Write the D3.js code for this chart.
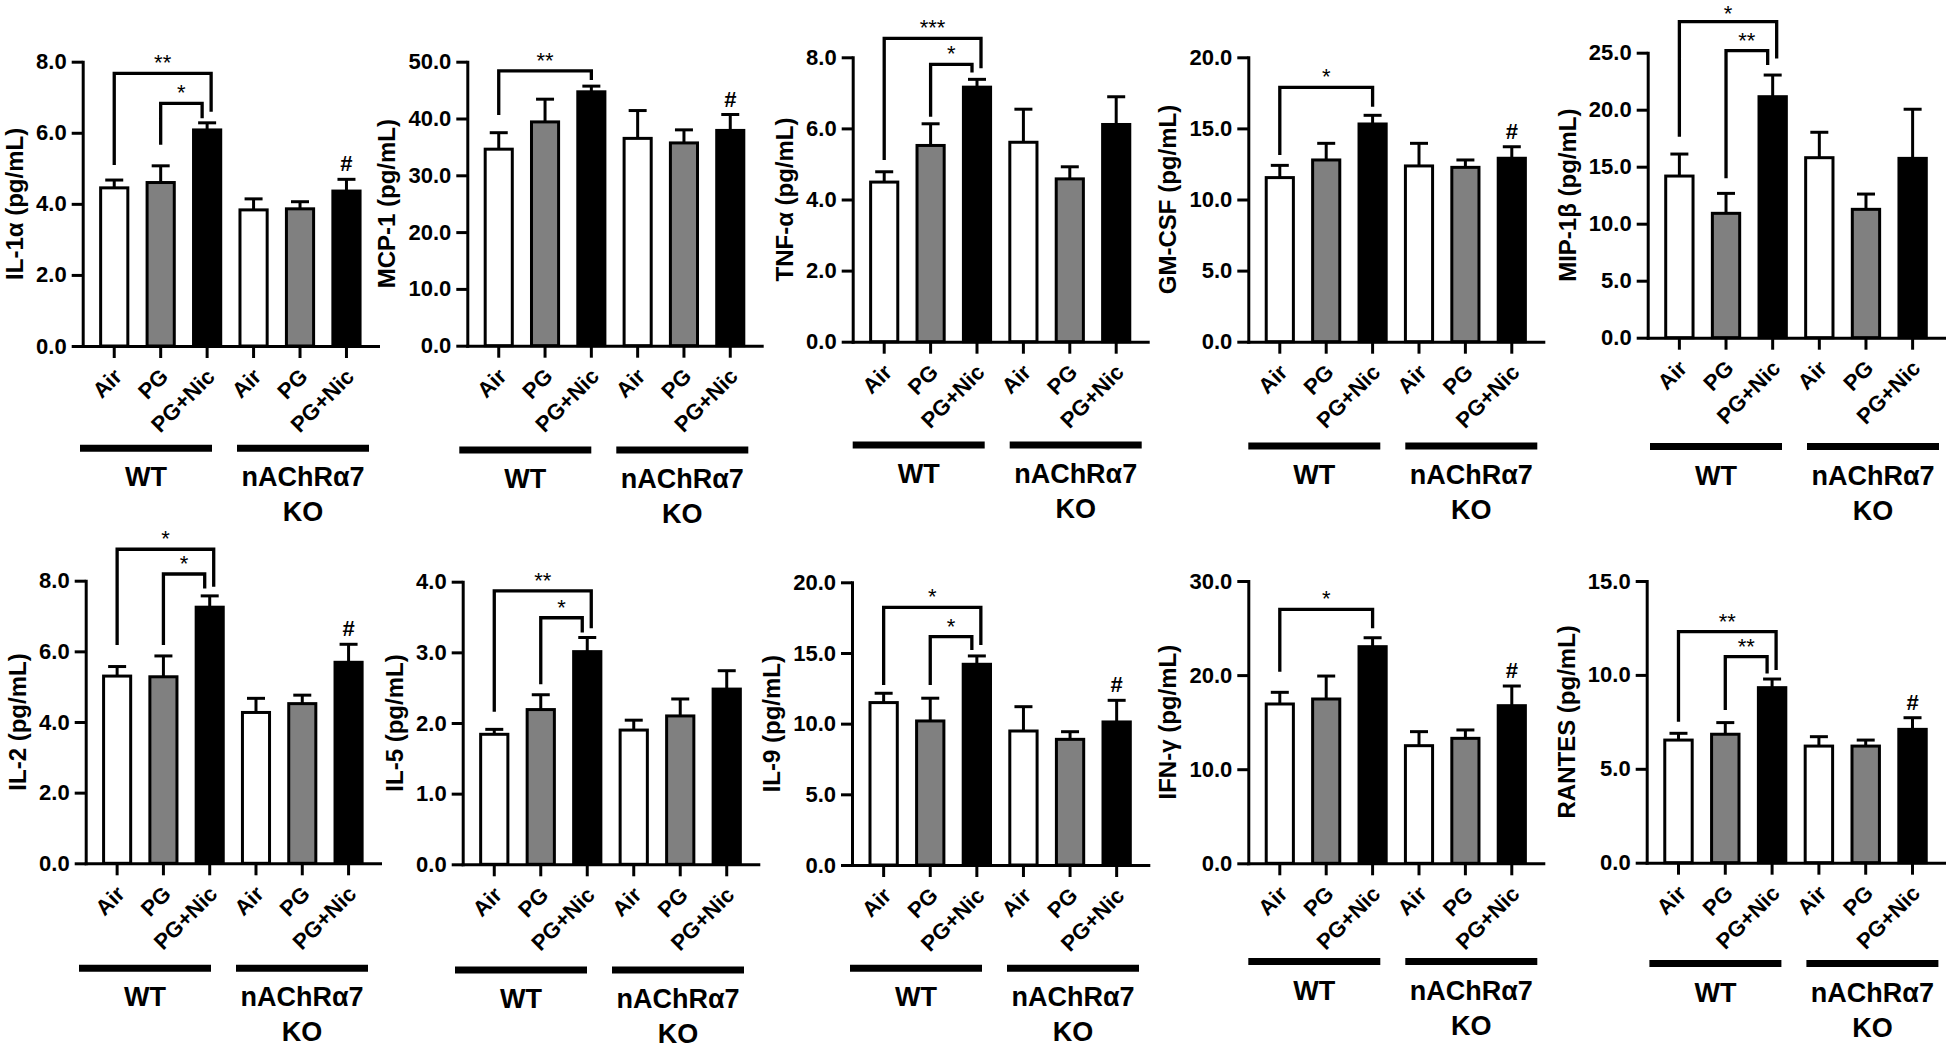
<!DOCTYPE html>
<html><head><meta charset="utf-8">
<script src="https://cdn.jsdelivr.net/npm/d3@7"></script>
<style>
html,body{margin:0;padding:0;background:#fff;}
svg{display:block;}
</style></head><body>
<svg id="chart" width="1946" height="1063"></svg>
<script>
// ---------- DATA ----------
const categories = ["Air", "PG", "PG+Nic", "Air", "PG", "PG+Nic"];
const groupLabels = [["WT"], ["nAChRα7", "KO"]];
const cytokines = ["IL-1α", "MCP-1", "TNF-α", "GM-CSF", "MIP-1β", "IL-2", "IL-5", "IL-9", "IFN-γ", "RANTES"];
const unit = "(pg/mL)";
const yMax = [8, 50, 8, 20, 25, 8, 4, 20, 30, 15];
const tickStep = [2, 10, 2, 5, 5, 2, 1, 5, 10, 5];

const means = [
  [4.45, 4.60, 6.08, 3.83, 3.86, 4.36],
  [34.6, 39.4, 44.7, 36.5, 35.7, 37.9],
  [4.49, 5.52, 7.16, 5.61, 4.58, 6.11],
  [11.54, 12.78, 15.31, 12.36, 12.26, 12.90],
  [14.18, 10.91, 21.14, 15.79, 11.26, 15.73],
  [5.30, 5.28, 7.25, 4.27, 4.52, 5.69],
  [1.84, 2.19, 3.01, 1.90, 2.10, 2.48],
  [11.49, 10.19, 14.20, 9.48, 8.89, 10.12],
  [16.93, 17.46, 23.02, 12.50, 13.28, 16.75],
  [6.53, 6.84, 9.32, 6.21, 6.21, 7.10]
];
const sems = [
  [0.22, 0.47, 0.20, 0.31, 0.20, 0.33],
  [2.9, 4.0, 1.0, 4.9, 2.3, 2.8],
  [0.29, 0.61, 0.22, 0.93, 0.34, 0.78],
  [0.86, 1.17, 0.61, 1.59, 0.52, 0.81],
  [1.93, 1.75, 1.90, 2.23, 1.34, 4.31],
  [0.27, 0.59, 0.32, 0.40, 0.24, 0.51],
  [0.07, 0.21, 0.20, 0.14, 0.24, 0.26],
  [0.66, 1.61, 0.59, 1.72, 0.54, 1.53],
  [1.24, 2.44, 0.95, 1.49, 0.89, 2.09],
  [0.36, 0.62, 0.46, 0.50, 0.32, 0.62]
];
// significance brackets: [panel, fromBar, toBar, level, leftLegEnd, rightLegEnd, label]
const brackets = [
  [0, 0, 2, 7.67, 5.09, 6.59, "**"], [0, 1, 2, 6.83, 5.66, 6.41, "*"],
  [1, 0, 2, 48.4, 40.6, 46.8, "**"],
  [2, 0, 2, 8.53, 5.11, 7.69, "***"], [2, 1, 2, 7.80, 6.33, 7.57, "*"],
  [3, 0, 2, 17.89, 13.13, 16.53, "*"],
  [4, 0, 2, 27.72, 17.63, 24.5, "*"], [4, 1, 2, 25.18, 13.98, 23.92, "**"],
  [5, 0, 2, 8.89, 6.18, 7.83, "*"], [5, 1, 2, 8.19, 6.18, 7.78, "*"],
  [6, 0, 2, 3.87, 2.16, 3.34, "**"], [6, 1, 2, 3.49, 2.55, 3.28, "*"],
  [7, 0, 2, 18.23, 12.74, 15.57, "*"], [7, 1, 2, 16.16, 12.74, 15.21, "*"],
  [8, 0, 2, 26.99, 20.36, 24.97, "*"],
  [9, 0, 2, 12.3, 7.51, 10.26, "**"], [9, 1, 2, 10.97, 8.13, 10.08, "**"]
];
// "#" marks: [panel, bar]
const hashMarks = [[0, 5], [1, 5], [3, 5], [5, 5], [7, 5], [8, 5], [9, 5]];

// ---------- LAYOUT ----------
const panelLeft   = [82.7, 467.3, 852.7, 1248.3, 1647.7, 85.7, 462.7, 852, 1248.3, 1646.7];
const panelRight  = [378, 761.7, 1147.7, 1543.3, 1944.3, 380, 758.3, 1148.3, 1543.3, 1944.3];
const panelTop    = [61.7, 61.7, 57.3, 57.3, 52.7, 580.7, 581.7, 582.3, 581, 581];
const panelBottom = [346, 345.7, 341.7, 341.7, 337.7, 863.3, 864.3, 865, 863.3, 862.7];
const groupLineY  = [448.3, 450, 445, 446, 446.5, 968.3, 970, 968.3, 961.5, 963.5];
const groupLineDx = [-2.7, -8, 0, 0, 2.3, -6.7, -7.7, -2, 0, 2.7];
const groupSpans  = [[0, 132], [157, 289]];
const barFills = ["#ffffff", "#808080", "#000000", "#ffffff", "#808080", "#000000"];
const FONT = '"Liberation Sans", Arial, Helvetica, sans-serif';
const LW = 3;

const svg = d3.select("#chart");

cytokines.forEach((name, p) => {
  const g = svg.append("g");
  const x = d3.scaleBand().domain(d3.range(categories.length))
    .range([panelLeft[p], panelRight[p]]).paddingInner(0.35).paddingOuter(0.354);
  const y = d3.scaleLinear().domain([0, yMax[p]]).range([panelBottom[p], panelTop[p]]);
  const cx = i => x(i) + x.bandwidth() / 2;
  const bw = x.bandwidth() - LW;

  // bars
  g.selectAll("rect.bar").data(means[p]).join("rect")
    .attr("class", "bar")
    .attr("x", (d, i) => cx(i) - bw / 2)
    .attr("width", bw)
    .attr("y", d => y(d))
    .attr("height", d => y(0) - y(d))
    .attr("fill", (d, i) => barFills[i])
    .attr("stroke", "#000").attr("stroke-width", LW);

  // error bars (upper only)
  const eb = g.selectAll("g.err").data(means[p]).join("g").attr("class", "err");
  eb.append("line")
    .attr("x1", (d, i) => cx(i)).attr("x2", (d, i) => cx(i))
    .attr("y1", d => y(d)).attr("y2", (d, i) => y(d + sems[p][i]))
    .attr("stroke", "#000").attr("stroke-width", LW);
  eb.append("line")
    .attr("x1", (d, i) => cx(i) - 9).attr("x2", (d, i) => cx(i) + 9)
    .attr("y1", (d, i) => y(d + sems[p][i])).attr("y2", (d, i) => y(d + sems[p][i]))
    .attr("stroke", "#000").attr("stroke-width", LW);

  // y axis
  const ticks = d3.range(0, yMax[p] + tickStep[p] / 2, tickStep[p]);
  const ya = g.append("g").attr("transform", `translate(${panelLeft[p]},0)`)
    .call(d3.axisLeft(y).tickValues(ticks).tickFormat(d3.format(".1f"))
      .tickSize(11).tickPadding(5).tickSizeOuter(0));
  ya.attr("font-family", FONT).attr("font-size", 22).attr("font-weight", "bold");
  ya.select(".domain").attr("stroke-width", LW).attr("stroke-linecap", "square");
  ya.selectAll(".tick line").attr("stroke-width", LW);
  ya.selectAll(".tick text").attr("fill", "#000");
  let maxW = 0;
  ya.selectAll(".tick text").each(function () { maxW = Math.max(maxW, this.getComputedTextLength()); });

  // x axis
  const xa = g.append("g").attr("transform", `translate(0,${panelBottom[p]})`)
    .call(d3.axisBottom(x).tickFormat(i => categories[i]).tickSize(12).tickSizeOuter(0));
  xa.attr("font-family", FONT).attr("font-size", 22).attr("font-weight", "bold");
  xa.select(".domain").attr("stroke-width", LW).attr("stroke-linecap", "square");
  xa.selectAll(".tick line").attr("stroke-width", LW);
  xa.selectAll(".tick text").attr("fill", "#000")
    .attr("text-anchor", "end").attr("x", 0).attr("y", 0).attr("dy", 0)
    .attr("transform", "translate(9,32) rotate(-45)");

  // y axis title
  const tx = panelLeft[p] - 16 - maxW - 13;
  const ty = (panelTop[p] + panelBottom[p]) / 2;
  g.append("text")
    .attr("transform", `translate(${tx},${ty}) rotate(-90)`)
    .attr("text-anchor", "middle")
    .attr("font-family", FONT).attr("font-size", 24).attr("font-weight", "bold")
    .text(name + " " + unit);

  // group lines and labels
  groupSpans.forEach((s, k) => {
    const x0 = panelLeft[p] + groupLineDx[p] + s[0];
    const x1 = panelLeft[p] + groupLineDx[p] + s[1];
    g.append("line")
      .attr("x1", x0).attr("x2", x1)
      .attr("y1", groupLineY[p]).attr("y2", groupLineY[p])
      .attr("stroke", "#000").attr("stroke-width", 7);
    groupLabels[k].forEach((t, li) => {
      g.append("text")
        .attr("x", (x0 + x1) / 2).attr("y", groupLineY[p] + 38 + li * 35)
        .attr("text-anchor", "middle")
        .attr("font-family", FONT).attr("font-size", 27).attr("font-weight", "bold")
        .text(t);
    });
  });

  // significance brackets
  const mine = brackets.filter(b => b[0] === p);
  mine.forEach((b, k) => {
    let off = 0;
    if (mine.length > 1) off = (b[1] === 0) ? 4 : -5;
    const xl = cx(b[1]), xr = cx(b[2]) + off;
    g.append("path")
      .attr("d", `M${xl},${y(b[4])}V${y(b[3])}H${xr}V${y(b[5])}`)
      .attr("fill", "none").attr("stroke", "#000").attr("stroke-width", 3.3)
      .attr("stroke-linejoin", "miter");
    g.append("text")
      .attr("x", (xl + xr) / 2).attr("y", Math.max(y(b[3]) - 3, 20.5))
      .attr("text-anchor", "middle")
      .attr("font-family", FONT).attr("font-size", 22)
      .text(b[6]);
  });

  // # marks
  hashMarks.filter(h => h[0] === p).forEach(h => {
    const i = h[1];
    g.append("text")
      .attr("x", cx(i)).attr("y", y(means[p][i] + sems[p][i]) - 8)
      .attr("text-anchor", "middle")
      .attr("font-family", FONT).attr("font-size", 22).attr("font-weight", "bold")
      .text("#");
  });
});
</script>
</body></html>
